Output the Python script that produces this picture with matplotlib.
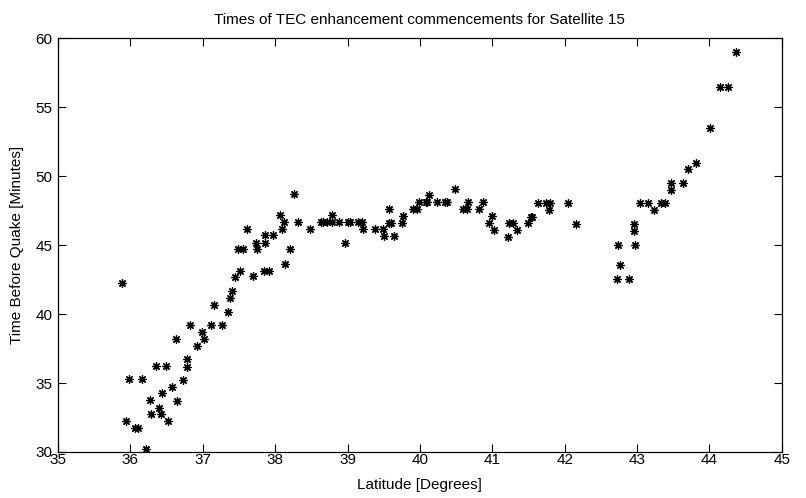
import matplotlib

matplotlib.use("Agg")
import matplotlib.pyplot as plt

plt.rcParams["font.family"] = ["Liberation Sans", "DejaVu Sans"]

# latitude [deg] and time before quake [min]
latitude = [
    35.89, 35.98, 36.16, 35.94, 36.06, 36.10, 36.22, 36.35, 36.49, 36.27,
    36.44, 36.39, 36.28, 36.42, 36.52, 36.58, 36.65, 36.73, 36.63, 36.78,
    36.78, 36.92, 36.83, 37.01, 36.99, 37.11, 37.27, 37.15, 37.35, 37.38,
    37.40, 37.44, 37.51, 37.49, 37.56, 37.69, 37.85, 37.91, 37.75, 37.73,
    37.61, 37.86, 37.86, 37.97, 38.06, 38.10, 38.12, 38.14, 38.20, 38.26,
    38.32, 38.48, 38.64, 38.66, 38.72, 38.79, 38.88, 38.79, 38.97, 39.01,
    39.04, 39.15, 39.20, 39.21, 39.38, 39.49, 39.50, 39.64, 39.57, 39.57,
    39.60, 39.75, 39.77, 39.91, 39.96, 39.99, 40.08, 40.10, 40.12, 40.24,
    40.35, 40.38, 40.48, 40.60, 40.65, 40.67, 40.81, 40.87, 41.00, 40.96,
    41.02, 41.22, 41.23, 41.29, 41.34, 41.50, 41.53, 41.55, 41.63, 41.74,
    41.80, 41.79, 42.04, 42.15, 42.72, 42.89, 42.76, 42.74, 42.97, 42.96,
    42.96, 43.04, 43.15, 43.24, 43.33, 43.39, 43.47, 43.47, 43.63, 43.71,
    43.82, 44.01, 44.15, 44.25, 44.37,
]
minutes = [
    42.22, 35.27, 35.27, 32.25, 31.74, 31.74, 30.22, 36.23, 36.23, 33.77,
    34.25, 33.21, 32.73, 32.73, 32.22, 34.73, 33.72, 35.24, 38.19, 36.18,
    36.72, 37.66, 39.20, 38.19, 38.67, 39.20, 39.20, 40.68, 40.17, 41.16,
    41.64, 42.70, 43.14, 44.71, 44.71, 42.73, 43.14, 43.14, 44.69, 45.17,
    46.18, 45.17, 45.70, 45.70, 47.17, 46.16, 46.67, 43.65, 44.69, 48.67,
    46.67, 46.16, 46.67, 46.67, 46.67, 46.67, 46.67, 47.17, 45.17, 46.67,
    46.67, 46.67, 46.67, 46.16, 46.16, 46.16, 45.65, 45.65, 47.61, 46.62,
    46.62, 46.62, 47.12, 47.61, 47.61, 48.14, 48.14, 48.14, 48.62, 48.14,
    48.14, 48.14, 49.08, 47.59, 47.59, 48.14, 47.59, 48.14, 47.10, 46.57,
    46.09, 45.60, 46.57, 46.57, 46.09, 46.57, 47.05, 47.05, 48.07, 48.07,
    48.07, 47.54, 48.07, 46.52, 42.56, 42.56, 43.53, 45.03, 45.03, 46.04,
    46.52, 48.04, 48.04, 47.51, 48.04, 48.04, 48.99, 49.47, 49.51, 50.49,
    50.96, 53.48, 56.45, 56.45, 58.96,
]

x_ticks = list(range(35, 46))
y_ticks = [30, 35, 40, 45, 50, 55, 60]

fig = plt.figure(figsize=(8.06, 4.98), dpi=100)
ax = fig.add_axes([0.072, 0.0924, 0.898, 0.831])

# MATLAB-style '*' marker: an 8-armed asterisk
ax.plot(latitude, minutes, linestyle="none", marker=(8, 2, 0), color="black",
        markersize=6, markeredgewidth=0.9)

ax.set_xlim(35, 45)
ax.set_ylim(30, 60)
ax.set_xticks(x_ticks)
ax.set_yticks(y_ticks)
ax.tick_params(direction="in", top=True, right=True, length=6, width=0.8,
               labelsize=11)
ax.tick_params(axis="x", pad=1)
ax.tick_params(axis="y", pad=4)
for side in ax.spines.values():
    side.set_linewidth(0.9)

ax.set_title("Times of TEC enhancement commencements for Satellite 15",
             fontsize=11, pad=10)
ax.set_xlabel("Latitude [Degrees]", fontsize=11, labelpad=8)
ax.set_ylabel("Time Before Quake [Minutes]", fontsize=11, labelpad=8)

fig.savefig("out.png", dpi=100)
